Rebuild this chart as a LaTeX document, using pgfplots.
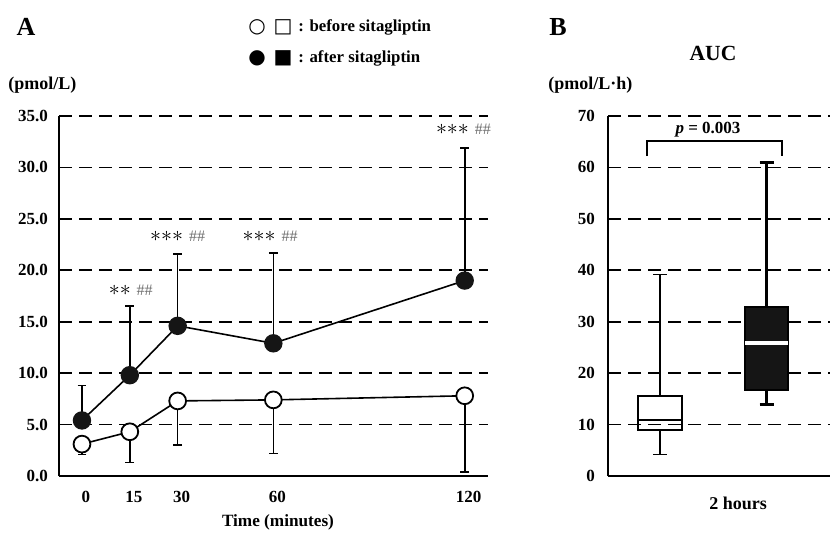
\documentclass[border=0pt]{standalone}
\usepackage{fontspec}
\setmainfont{Liberation Serif}
\newfontfamily\symfont{DejaVu Sans}
\usepackage{pgfplots}
\pgfplotsset{compat=1.18}
\usepgfplotslibrary{statistics}

\definecolor{darkfill}{HTML}{151515}
\definecolor{hashgray}{HTML}{6E6E6E}

\newcommand{\sig}[2]{{\fontsize{11}{11}\selectfont$#1$}\hspace{3pt}{\color{hashgray}\fontsize{8}{8}\selectfont #2}}

\begin{document}
\begin{tikzpicture}
\useasboundingbox (0,0) rectangle (415pt,-267pt);

% ---------- panel A ----------
\begin{axis}[
    at={(29.5pt,-238pt)}, anchor=south west,
    scale only axis, width=214.5pt, height=180pt,
    xmin=-7.2, xmax=127.3,
    ymin=0, ymax=35,
    xtick={0,15,30,60,120},
    ytick={0,5,...,35},
    axis x line=bottom, axis y line=left,
    axis line style={line width=1.2pt, -},
    major tick length=0pt,
    ymajorgrids=true,
    grid style={black, line width=0.9pt, dash pattern=on 6.5pt off 3.5pt},
    /pgf/number format/assume math mode=true,
    /pgf/number format/.cd, fixed, fixed zerofill, precision=1, /pgfplots/.cd,
    xticklabel style={font=\bfseries\fontsize{8.5}{10}\selectfont, yshift=-4pt, xshift=2pt, /pgf/number format/precision=0, /pgf/number format/fixed zerofill=false},
    yticklabel style={font=\bfseries\fontsize{8.5}{10}\selectfont, xshift=-2pt},
    clip=false,
]
% before sitagliptin (open), error bars downward
\addplot[black, line width=0.8pt, mark=*, mark size=4.2pt,
    mark options={fill=white, draw=black, line width=0.9pt},
    error bars/.cd, y dir=minus, y explicit,
    error bar style={line width=0.8pt, black},
    error mark options={rotate=90, line width=0.8pt, mark size=2.2pt}]
    coordinates {
    (0,3.1) -= (0,1.0)
    (15,4.3) -= (0,3.0)
    (30,7.3) -= (0,4.3)
    (60,7.4) -= (0,5.2)
    (120,7.8) -= (0,7.4)
    };
% after sitagliptin (filled), error bars upward
\addplot[black, line width=0.8pt, mark=*, mark size=4.2pt,
    mark options={fill=darkfill, draw=darkfill},
    error bars/.cd, y dir=plus, y explicit,
    error bar style={line width=0.8pt, black},
    error mark options={rotate=90, line width=0.8pt, mark size=2.2pt}]
    coordinates {
    (0,5.4) += (0,3.4)
    (15,9.8) += (0,6.7)
    (30,14.6) += (0,7.0)
    (60,12.9) += (0,8.8)
    (120,19.0) += (0,12.9)
    };
\node at (axis cs:15.3,18.1) {\sig{{\ast}{\ast}}{\#\#}};
\node at (axis cs:30,23.3) {\sig{{\ast}{\ast}{\ast}}{\#\#}};
\node at (axis cs:59,23.3) {\sig{{\ast}{\ast}{\ast}}{\#\#}};
\node at (axis cs:119.6,33.7) {\sig{{\ast}{\ast}{\ast}}{\#\#}};
\end{axis}

% ---------- panel B ----------
\begin{axis}[
    at={(304pt,-238pt)}, anchor=south west,
    scale only axis, width=111pt, height=180pt,
    xmin=608, xmax=830,
    ymin=0, ymax=70,
    xtick=\empty,
    ytick={0,10,...,70},
    axis x line=bottom, axis y line=left,
    axis line style={line width=1.2pt, -},
    major tick length=0pt,
    ymajorgrids=true,
    grid style={black, line width=0.9pt, dash pattern=on 6.5pt off 3.5pt},
    /pgf/number format/assume math mode=true,
    yticklabel style={font=\bfseries\fontsize{8.5}{10}\selectfont, xshift=-3pt},
    boxplot/draw direction=y,
    clip=false,
]
\addplot[black, line width=1.2pt,
    boxplot prepared={draw position=660, box extend=44, whisker extend=14,
        lower whisker=4.2, lower quartile=8.9, median=10.8,
        upper quartile=15.6, upper whisker=39.2,
        every whisker/.style={line width=0.8pt},
        every median/.style={line width=1pt, black}},
    ] coordinates {};
\addplot[black, fill=darkfill, line width=1pt,
    boxplot prepared={draw position=766.5, box extend=43, whisker extend=14,
        lower whisker=13.9, lower quartile=16.7, median=25.8,
        upper quartile=32.9, upper whisker=61.0,
        every whisker/.style={line width=1.6pt},
        every median/.style={line width=2pt, white}},
    ] coordinates {};
\draw[line width=1pt] (axis cs:647,62.2) -- (axis cs:647,65.1) -- (axis cs:781.7,65.1) -- (axis cs:781.7,62.2);
\node[font=\bfseries\fontsize{8.5}{10}\selectfont] at (axis cs:708,67.4) {\textit{p} = 0.003};
\end{axis}

% ---------- labels ----------
\node[font=\bfseries\fontsize{13}{15}\selectfont] at (13pt,-13.5pt) {A};
\node[font=\bfseries\fontsize{13}{15}\selectfont] at (279pt,-13.5pt) {B};
\node[font=\symfont\bfseries\fontsize{10}{11}\selectfont] at (128.5pt,-13.5pt) {○};
\node[font=\symfont\bfseries\fontsize{10}{11}\selectfont] at (141.5pt,-13.5pt) {□};
\node[font=\symfont\fontsize{10}{11}\selectfont] at (128.5pt,-29pt) {●};
\node[font=\symfont\fontsize{10}{11}\selectfont] at (141.5pt,-29pt) {■};
\node[anchor=west, inner sep=0pt, font=\bfseries\fontsize{8.4}{10}\selectfont] at (149pt,-13.5pt) {: before sitagliptin};
\node[anchor=west, inner sep=0pt, font=\bfseries\fontsize{8.4}{10}\selectfont] at (149pt,-29pt) {: after sitagliptin};
\node[anchor=west, inner sep=0pt, font=\bfseries\fontsize{9}{10}\selectfont] at (4pt,-42.5pt) {(pmol/L)};
\node[anchor=west, inner sep=0pt, font=\bfseries\fontsize{9}{10}\selectfont] at (274pt,-42.5pt) {(pmol/L·h)};
\node[font=\bfseries\fontsize{10.8}{12}\selectfont] at (356.5pt,-26.5pt) {AUC};
\node[font=\bfseries\fontsize{8.6}{10}\selectfont] at (139pt,-261pt) {Time (minutes)};
\node[font=\bfseries\fontsize{9}{10}\selectfont] at (369pt,-251.5pt) {2 hours};
\end{tikzpicture}
\end{document}
